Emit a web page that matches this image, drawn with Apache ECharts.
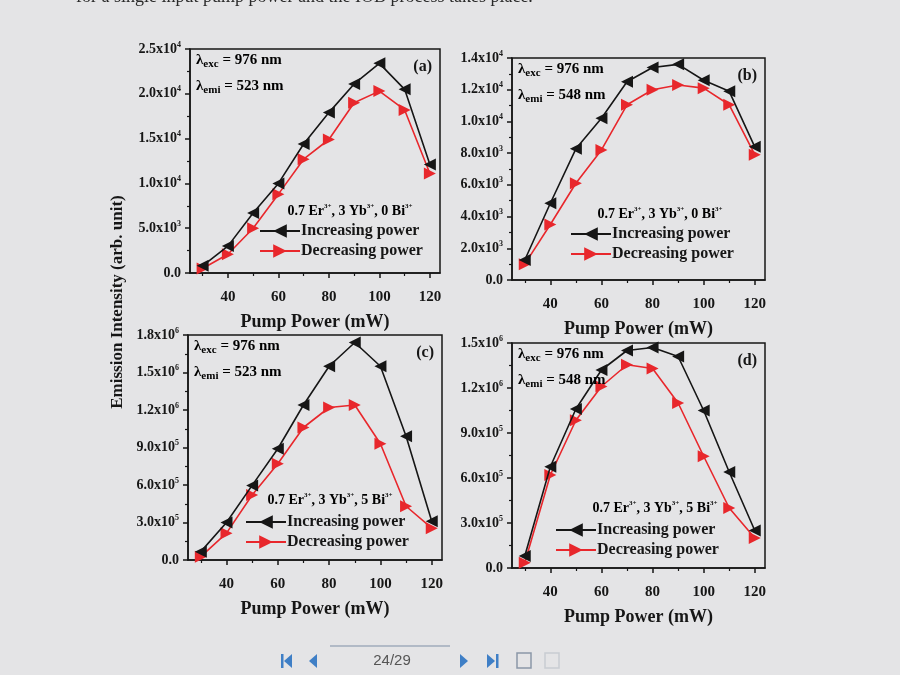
<!DOCTYPE html>
<html>
<head>
<meta charset="utf-8">
<script src="https://cdn.jsdelivr.net/npm/echarts@6.0.0/dist/echarts.min.js"></script>
<style>
  html, body { margin: 0; padding: 0; background: #e4e4e6; }
  #chart { width: 900px; height: 675px; }
</style>
</head>
<body>
<div id="chart"></div>
<script>
// pump power (mW)
var pump = [30, 40, 50, 60, 70, 80, 90, 100, 110, 120];
var xLabels = [40, 60, 80, 100, 120];
var xMinor = [30, 50, 70, 90, 110];

// (a) 523 nm, 0 Bi
var incA = [800, 3000, 6700, 10000, 14400, 17900, 21100, 23400, 20500, 12100];
var decA = [500, 2100, 5000, 8800, 12700, 14900, 19000, 20300, 18200, 11100];
// (b) 548 nm, 0 Bi
var incB = [1260, 4840, 8270, 10200, 12500, 13400, 13600, 12600, 11900, 8400];
var decB = [1000, 3500, 6100, 8200, 11050, 12000, 12300, 12100, 11050, 7900];
// (c) 523 nm, 5 Bi
var incC = [67000, 300000, 597000, 890000, 1240000, 1550000, 1740000, 1550000, 990000, 310000];
var decC = [27000, 215000, 520000, 770000, 1060000, 1220000, 1240000, 930000, 430000, 255000];
// (d) 548 nm, 5 Bi
var incD = [80000, 675000, 1060000, 1320000, 1450000, 1470000, 1410000, 1050000, 640000, 250000];
var decD = [35000, 620000, 985000, 1210000, 1355000, 1330000, 1100000, 745000, 400000, 200000];

var FONT = '"Liberation Serif", "DejaVu Serif", serif';
var INK = '#161616';
var RED = '#e8272c';
var triLeft = 'path://M0,5 L10,0 L10,10 Z';
var triRight = 'path://M10,5 L0,0 L0,10 Z';

var panels = [
  {left: 190, top: 49, width: 250, height: 224, ymax: 25000, yint: 5000, inc: incA, dec: decA,
   tag: '(a)', emi: '523', bi: '0', legTop: 218, legLeft: 254, compX: 350, compY: 211},
  {left: 512, top: 58, width: 253, height: 222, ymax: 14000, yint: 2000, inc: incB, dec: decB,
   tag: '(b)', emi: '548', bi: '0', legTop: 221, legLeft: 565, compX: 660, compY: 214},
  {left: 188, top: 335, width: 254, height: 225, ymax: 1800000, yint: 300000, inc: incC, dec: decC,
   tag: '(c)', emi: '523', bi: '5', legTop: 509, legLeft: 240, compX: 330, compY: 500},
  {left: 512, top: 343, width: 253, height: 225, ymax: 1500000, yint: 300000, inc: incD, dec: decD,
   tag: '(d)', emi: '548', bi: '5', legTop: 517, legLeft: 550, compX: 655, compY: 508}
];

function sciLabel(v) {
  if (v === 0) return '{m|0.0}';
  var e = Math.floor(Math.log10(v) + 1e-9);
  var m = (v / Math.pow(10, e)).toFixed(1);
  return '{m|' + m + 'x10}{s|' + e + '}';
}

var tickRich = {
  m: {fontFamily: FONT, fontWeight: 'bold', fontSize: 14, color: INK, lineHeight: 17},
  s: {fontFamily: FONT, fontWeight: 'bold', fontSize: 8, color: INK, verticalAlign: 'top', lineHeight: 10}
};

var option = {
  backgroundColor: '#e4e4e6',
  animation: false,
  grid: [], xAxis: [], yAxis: [], series: [], legend: [], graphic: []
};

panels.forEach(function (p, i) {
  option.grid.push({
    left: p.left, top: p.top, width: p.width, height: p.height,
    show: true, borderColor: INK, borderWidth: 1.5, backgroundColor: 'transparent'
  });
  option.xAxis.push({
    type: 'value', gridIndex: i, min: 25, max: 124,
    name: 'Pump Power (mW)', nameLocation: 'middle', nameGap: 40,
    nameTextStyle: {fontFamily: FONT, fontWeight: 'bold', fontSize: 18, color: INK},
    axisLine: {lineStyle: {color: INK, width: 1.5}},
    axisTick: {inside: false, length: 5, customValues: xLabels, lineStyle: {color: INK, width: 1.5}},
    axisLabel: {customValues: xLabels, margin: 17, fontFamily: FONT, fontWeight: 'bold', fontSize: 15, color: INK},
    splitLine: {show: false}
  });
  // minor x ticks
  option.xAxis.push({
    type: 'value', gridIndex: i, min: 25, max: 124, position: 'bottom',
    axisLine: {show: false},
    axisTick: {length: 3, customValues: xMinor, lineStyle: {color: INK, width: 1.2}},
    axisLabel: {show: false}, splitLine: {show: false}
  });
  option.yAxis.push({
    type: 'value', gridIndex: i, min: 0, max: p.ymax, interval: p.yint,
    axisLine: {lineStyle: {color: INK, width: 1.5}},
    axisTick: {inside: false, length: 5, lineStyle: {color: INK, width: 1.5}},
    minorTick: {show: true, splitNumber: 2, length: 3, lineStyle: {color: INK, width: 1.2}},
    axisLabel: {margin: 9, formatter: sciLabel, rich: tickRich},
    splitLine: {show: false}
  });
  option.series.push({
    name: 'Increasing power', type: 'line', xAxisIndex: 2 * i, yAxisIndex: i,
    data: pump.map(function (x, k) { return [x, p.inc[k]]; }),
    symbol: triLeft, symbolSize: 12,
    lineStyle: {color: INK, width: 1.6}, itemStyle: {color: INK}, z: 3
  });
  option.series.push({
    name: 'Decreasing power', type: 'line', xAxisIndex: 2 * i, yAxisIndex: i,
    data: pump.map(function (x, k) { return [x, p.dec[k]]; }),
    symbol: triRight, symbolSize: 12,
    lineStyle: {color: RED, width: 1.6}, itemStyle: {color: RED}, z: 2
  });
  option.legend.push({
    left: p.legLeft, top: p.legTop, orient: 'vertical', itemGap: 4,
    itemWidth: 40, itemHeight: 17,
    data: ['Increasing power', 'Decreasing power'],
    textStyle: {fontFamily: FONT, fontWeight: 'bold', fontSize: 16, color: INK, padding: [0, 0, 0, -4]},
    selectedMode: false
  });

  var labRich = {
    l: {fontFamily: FONT, fontWeight: 'bold', fontSize: 15, color: INK, lineHeight: 18},
    b: {fontFamily: FONT, fontWeight: 'bold', fontSize: 11, color: INK, verticalAlign: 'bottom', lineHeight: 12}
  };
  option.graphic.push({
    type: 'text', left: p.left + 6, top: p.top + 4, z: 10,
    style: {text: '{l|λ}{b|exc}{l| = 976 nm}', rich: labRich}
  });
  option.graphic.push({
    type: 'text', left: p.left + 6, top: p.top + 30, z: 10,
    style: {text: '{l|λ}{b|emi}{l| = ' + p.emi + ' nm}', rich: labRich}
  });
  option.graphic.push({
    type: 'text', right: 900 - p.left - p.width + 8, top: p.top + 10, z: 10,
    style: {text: p.tag, fontFamily: FONT, fontWeight: 'bold', fontSize: 16, fill: INK}
  });
  var compRich = {
    t: {fontFamily: FONT, fontWeight: 'bold', fontSize: 14, color: INK, lineHeight: 16},
    p: {fontFamily: FONT, fontWeight: 'bold', fontSize: 7, color: INK, verticalAlign: 'top', lineHeight: 8}
  };
  option.graphic.push({
    type: 'text', x: p.compX, y: p.compY, z: 10,
    style: {
      text: '{t|0.7 Er}{p|3+}{t|, 3 Yb}{p|3+}{t|, ' + p.bi + ' Bi}{p|3+}',
      rich: compRich, align: 'center', verticalAlign: 'middle'
    }
  });
});

// shared y-axis title
option.graphic.push({
  type: 'text', x: 118, y: 302, rotation: Math.PI / 2, z: 10,
  style: {text: 'Emission Intensity (arb. unit)', fontFamily: FONT, fontWeight: 'bold',
          fontSize: 17, fill: INK, align: 'center', verticalAlign: 'middle'}
});
// cut-off caption line of the page above the figure
option.graphic.push({
  type: 'text', left: 76, top: -12, z: 10,
  style: {text: 'for a single input pump power and the IOB process takes place.',
          fontFamily: FONT, fontSize: 18, fill: '#2a2a2a'}
});
// page navigation bar of the viewer
option.graphic.push({
  type: 'group', z: 10,
  children: [
    {type: 'line', shape: {x1: 330, y1: 646, x2: 450, y2: 646}, style: {stroke: '#7e8fa6', lineWidth: 1}},
    {type: 'text', x: 392, y: 661, style: {text: '24/29', fontFamily: '"Liberation Sans", sans-serif',
      fontSize: 15, fill: '#555', align: 'center', verticalAlign: 'middle'}},
    {type: 'rect', shape: {x: 281, y: 654, width: 2.5, height: 14}, style: {fill: '#3f7fc6'}},
    {type: 'polygon', shape: {points: [[292, 654], [292, 668], [284, 661]]}, style: {fill: '#3f7fc6'}},
    {type: 'polygon', shape: {points: [[317, 654], [317, 668], [309, 661]]}, style: {fill: '#3f7fc6'}},
    {type: 'polygon', shape: {points: [[460, 654], [460, 668], [468, 661]]}, style: {fill: '#3f7fc6'}},
    {type: 'polygon', shape: {points: [[487, 654], [487, 668], [495, 661]]}, style: {fill: '#3f7fc6'}},
    {type: 'rect', shape: {x: 496, y: 654, width: 2.5, height: 14}, style: {fill: '#3f7fc6'}},
    {type: 'rect', shape: {x: 517, y: 653, width: 14, height: 15}, style: {fill: 'none', stroke: '#8a97a8', lineWidth: 1.5}},
    {type: 'rect', shape: {x: 545, y: 653, width: 14, height: 15}, style: {fill: 'none', stroke: '#c8ccd2', lineWidth: 1.5}}
  ]
});

var chart = echarts.init(document.getElementById('chart'));
chart.setOption(option);
</script>
</body>
</html>
